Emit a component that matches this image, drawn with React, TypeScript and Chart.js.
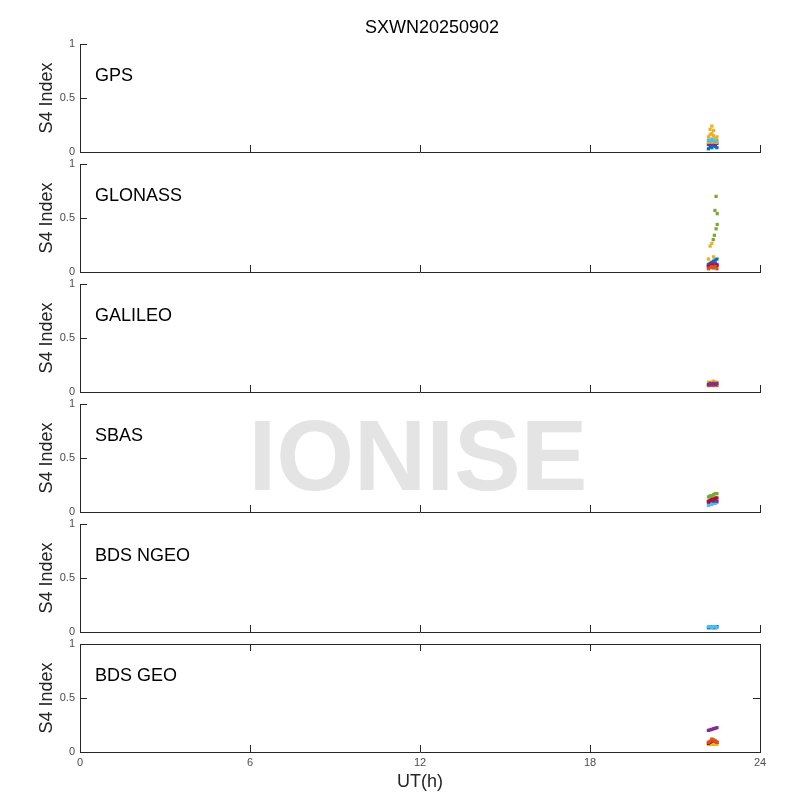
import React, { useEffect, useRef } from "react";
import { Chart, registerables } from "chart.js";

Chart.register(...registerables);

// ---------- text / ticks ----------
const TITLE = "SXWN20250902";
const WATERMARK = "IONISE";
const PANEL_NAMES = ["GPS", "GLONASS", "GALILEO", "SBAS", "BDS NGEO", "BDS GEO"];
const X_TICKS = [0, 6, 12, 18, 24];
const Y_TICKS = [0, 0.5, 1];
const X_LABEL = "UT(h)";
const Y_LABEL = "S4 Index";

// ---------- colours (MATLAB default order) ----------
const BLUE = "#0072BD";
const ORANGE = "#D95319";
const YELLOW = "#EDB120";
const PURPLE = "#7E2F8E";
const GREEN = "#77AC30";
const CYAN = "#4DBEEE";
const RED = "#A2142F";

// ---------- data (UT hours / S4) ----------
const T = [22.18, 22.24, 22.3, 22.36, 22.42, 22.48];

const GPS_BLUE = [0.03, 0.05, 0.04, 0.06, 0.05, 0.04];
const GPS_PURPLE = [0.07, 0.08, 0.07, 0.08, 0.07, 0.08];
const GPS_YELLOW_LOW = [0.09, 0.1, 0.09, 0.1, 0.09, 0.09];
const GPS_CYAN = [0.11, 0.1, 0.12, 0.11, 0.1, 0.11];
const GPS_YELLOW = [0.14, 0.16, 0.17, 0.15, 0.13, 0.14];
const GPS_YELLOW_HIGH = [null, 0.21, 0.24, 0.2, null, null];

const GLO_GREEN_T = [22.35, 22.39, 22.45, 22.49, 22.49, 22.41, 22.45];
const GLO_GREEN = [0.3, 0.34, 0.4, 0.44, 0.54, 0.57, 0.7];
const GLO_YELLOW = [0.12, 0.24, 0.265, 0.14, null, null];
const GLO_BLUE = [0.07, 0.08, 0.09, 0.1, 0.11, 0.12];
const GLO_PURPLE = [0.06, 0.07, 0.08, 0.07, 0.08, 0.07];
const GLO_RED = [0.05, 0.05, 0.06, 0.04, 0.05, 0.06];
const GLO_ORANGE = [0.03, 0.04, 0.05, 0.04, 0.05, 0.03];

const GAL_ORANGE = [0.06, 0.06, 0.07, 0.06, 0.07, 0.06];
const GAL_YELLOW = [0.09, 0.09, 0.09, 0.1, 0.09, 0.09];
const GAL_PURPLE = [0.07, 0.08, 0.07, 0.08, 0.07, 0.08];

const SBAS_CYAN = [0.06, 0.07, 0.07, 0.08, 0.08, 0.09];
const SBAS_PURPLE = [0.09, 0.1, 0.11, 0.1, 0.11, 0.1];
const SBAS_RED = [0.1, 0.11, 0.12, 0.12, 0.13, 0.13];
const SBAS_GREEN = [0.14, 0.15, 0.15, 0.16, 0.17, 0.17];

const NGEO_BLUE = [0.04, 0.04, 0.05, 0.04, 0.04, 0.05];
const NGEO_CYAN = [0.05, 0.05, 0.04, 0.05, 0.05, 0.04];

const GEO_YELLOW = [0.07, 0.07, 0.08, 0.07, 0.08, 0.07];
const GEO_RED = [0.08, 0.09, 0.1, 0.11, 0.1, 0.09];
const GEO_ORANGE = [0.09, 0.1, 0.12, 0.11, 0.1, 0.09];
const GEO_PURPLE = [0.2, 0.205, 0.21, 0.215, 0.22, 0.225];

// series listed bottom-first (later ones drawn on top)
const PANEL_SERIES = [
  [
    { color: BLUE, t: T, y: GPS_BLUE },
    { color: PURPLE, t: T, y: GPS_PURPLE },
    { color: YELLOW, t: T, y: GPS_YELLOW_LOW },
    { color: CYAN, t: T, y: GPS_CYAN },
    { color: YELLOW, t: T, y: GPS_YELLOW },
    { color: YELLOW, t: T, y: GPS_YELLOW_HIGH },
  ],
  [
    { color: GREEN, t: GLO_GREEN_T, y: GLO_GREEN },
    { color: YELLOW, t: T, y: GLO_YELLOW },
    { color: BLUE, t: T, y: GLO_BLUE },
    { color: PURPLE, t: T, y: GLO_PURPLE },
    { color: RED, t: T, y: GLO_RED },
    { color: ORANGE, t: T, y: GLO_ORANGE },
  ],
  [
    { color: ORANGE, t: T, y: GAL_ORANGE },
    { color: YELLOW, t: T, y: GAL_YELLOW },
    { color: PURPLE, t: T, y: GAL_PURPLE },
  ],
  [
    { color: CYAN, t: T, y: SBAS_CYAN },
    { color: PURPLE, t: T, y: SBAS_PURPLE },
    { color: RED, t: T, y: SBAS_RED },
    { color: GREEN, t: T, y: SBAS_GREEN },
  ],
  [
    { color: BLUE, t: T, y: NGEO_BLUE },
    { color: CYAN, t: T, y: NGEO_CYAN },
  ],
  [
    { color: YELLOW, t: T, y: GEO_YELLOW },
    { color: RED, t: T, y: GEO_RED },
    { color: ORANGE, t: T, y: GEO_ORANGE },
    { color: PURPLE, t: T, y: GEO_PURPLE },
  ],
];

// ---------- styling / layout ----------
const FONT = "'Liberation Sans', Arial, Helvetica, sans-serif";
const AXIS = "#262626";
const TICKLABEL = "#4d4d4d";
const PANEL_TOP0 = 44;
const PANEL_STEP = 120;
const PANEL_H = 108;
const TICK_LEN = 7;
const MARGIN = 18;

function geom(i: number) {
  const top = PANEL_TOP0 + PANEL_STEP * i;
  const bottom = top + PANEL_H;
  const cTop = i === 0 ? 0 : top - MARGIN;
  const cBottom = i === 5 ? 800 : bottom + MARGIN;
  return { top, bottom, cTop, cBottom, cH: cBottom - cTop };
}

function makeConfig(i: number): any {
  const last = i === 5;
  const g = geom(i);
  const series = PANEL_SERIES[i];
  const n = series.length;
  const decor = {
    id: "decor" + i,
    beforeDraw(chart: any) {
      if (i !== 3) return;
      const ctx = chart.ctx;
      ctx.save();
      ctx.font = `bold 100px ${FONT}`;
      ctx.fillStyle = "#e4e4e4";
      ctx.textAlign = "center";
      ctx.textBaseline = "alphabetic";
      ctx.fillText(WATERMARK, 418, 490 - g.cTop);
      ctx.restore();
    },
    afterDraw(chart: any) {
      const ctx = chart.ctx;
      const a = chart.chartArea;
      const xs = chart.scales.x;
      const ys = chart.scales.y;
      ctx.save();
      ctx.strokeStyle = AXIS;
      ctx.lineWidth = 1;
      ctx.beginPath();
      for (const v of Y_TICKS.slice(1)) {
        const py = Math.round(ys.getPixelForValue(v)) + 0.5;
        ctx.moveTo(a.left, py);
        ctx.lineTo(a.left + TICK_LEN, py);
        if (last) {
          ctx.moveTo(a.right, py);
          ctx.lineTo(a.right - TICK_LEN, py);
        }
      }
      for (const v of X_TICKS.slice(1)) {
        const px = Math.round(xs.getPixelForValue(v)) + 0.5;
        ctx.moveTo(px, a.bottom);
        ctx.lineTo(px, a.bottom - TICK_LEN);
        if (last) {
          ctx.moveTo(px, a.top);
          ctx.lineTo(px, a.top + TICK_LEN);
        }
      }
      if (last) {
        ctx.moveTo(a.left, a.top + 0.5);
        ctx.lineTo(a.right + 1, a.top + 0.5);
        ctx.moveTo(a.right + 0.5, a.top);
        ctx.lineTo(a.right + 0.5, a.bottom);
      }
      ctx.stroke();
      ctx.fillStyle = "#000";
      ctx.font = `18px ${FONT}`;
      ctx.textAlign = "left";
      ctx.textBaseline = "middle";
      ctx.fillText(PANEL_NAMES[i], 95, a.top + 32);
      if (i === 0) {
        ctx.textAlign = "center";
        ctx.fillStyle = "#000";
        ctx.fillText(TITLE, 432, 28);
      }
      ctx.restore();
    },
  };

  return {
    type: "scatter",
    data: {
      datasets: series.map((s, k) => ({
        data: s.t
          .map((t, j) => ({ x: t, y: s.y[j] }))
          .filter((p) => p.y !== null && p.y !== undefined),
        backgroundColor: s.color,
        borderColor: s.color,
        borderWidth: 0,
        pointStyle: "rect",
        pointRadius: 2.3,
        pointHoverRadius: 2.3,
        order: n - k,
      })),
    },
    options: {
      responsive: false,
      maintainAspectRatio: false,
      animation: false,
      events: [],
      layout: {
        padding: {
          top: g.top - g.cTop,
          left: 0,
          right: 40,
          bottom: last ? 0 : g.cBottom - g.bottom,
        },
      },
      plugins: {
        legend: { display: false },
        tooltip: { enabled: false },
        title: { display: false },
      },
      scales: {
        x: {
          type: "linear",
          position: "bottom",
          min: 0,
          max: 24,
          afterBuildTicks: (s: any) => {
            s.ticks = X_TICKS.map((v) => ({ value: v }));
          },
          afterFit: (s: any) => {
            s.height = last ? 48 : 0;
          },
          ticks: {
            display: last,
            padding: 4,
            color: TICKLABEL,
            font: { family: FONT, size: 11 },
            callback: (v: any) => String(v),
            maxRotation: 0,
            autoSkip: false,
          },
          grid: { display: false, drawTicks: false },
          border: { display: true, color: AXIS, width: 1 },
          title: {
            display: last,
            text: X_LABEL,
            color: AXIS,
            font: { family: FONT, size: 18 },
            padding: { top: 0, bottom: 7 },
          },
        },
        y: {
          type: "linear",
          min: 0,
          max: 1,
          afterBuildTicks: (s: any) => {
            s.ticks = Y_TICKS.map((v) => ({ value: v }));
          },
          afterFit: (s: any) => {
            s.width = 80;
          },
          ticks: {
            padding: 5,
            color: TICKLABEL,
            font: { family: FONT, size: 11 },
            callback: (v: any) => String(v),
            autoSkip: false,
          },
          grid: { display: false, drawTicks: false },
          border: { display: true, color: AXIS, width: 1 },
          title: {
            display: true,
            text: Y_LABEL,
            color: AXIS,
            font: { family: FONT, size: 18 },
            padding: { top: 36, bottom: 0 },
          },
        },
      },
    },
    plugins: [decor],
  };
}

function Panel({ index }: { index: number }) {
  const ref = useRef<HTMLCanvasElement | null>(null);
  const g = geom(index);
  useEffect(() => {
    if (!ref.current) return;
    const chart = new Chart(ref.current, makeConfig(index));
    return () => chart.destroy();
  }, [index]);
  return (
    <canvas
      ref={ref}
      width={800}
      height={g.cH}
      style={{
        position: "absolute",
        left: 0,
        top: g.cTop,
        width: 800,
        height: g.cH,
        display: "block",
      }}
    />
  );
}

export default function App() {
  return (
    <div
      style={{
        position: "absolute",
        left: 0,
        top: 0,
        width: 800,
        height: 800,
        background: "#fff",
        overflow: "hidden",
      }}
    >
      {PANEL_NAMES.map((_, i) => (
        <Panel key={i} index={i} />
      ))}
    </div>
  );
}
